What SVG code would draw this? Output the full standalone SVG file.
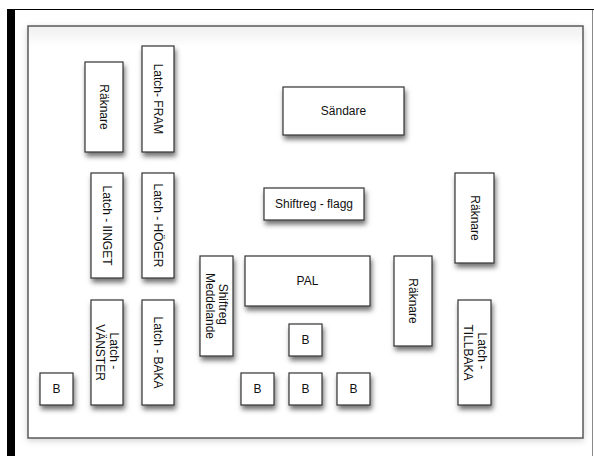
<svg xmlns="http://www.w3.org/2000/svg" width="594" height="456" viewBox="0 0 594 456">
  <defs>
    <filter id="shadow" x="-30%" y="-30%" width="160%" height="160%">
      <feDropShadow dx="1.5" dy="4" stdDeviation="2.5" flood-color="#000" flood-opacity="0.55"/>
    </filter>
    <filter id="frameShadow" x="-5%" y="-5%" width="110%" height="110%">
      <feDropShadow dx="0" dy="2" stdDeviation="3" flood-color="#000" flood-opacity="0.18"/>
    </filter>
    <linearGradient id="innerShade" x1="0" y1="0" x2="0" y2="1">
      <stop offset="0" stop-color="#efefef"/>
      <stop offset="0.05" stop-color="#ffffff"/>
      <stop offset="1" stop-color="#ffffff"/>
    </linearGradient>
  </defs>
  <style>
    .box { fill: #ffffff; stroke: #333333; stroke-width: 1.2; filter: url(#shadow); }
    .lbl { font-family: "Liberation Sans", Arial, Helvetica, sans-serif; font-size: 12px; fill: #111111; text-anchor: middle; dominant-baseline: central; }
  </style>

  <!-- page background and outer frame -->
  <rect x="0" y="0" width="594" height="456" fill="#ffffff"/>
  <rect x="7" y="9" width="8" height="447" fill="#000000"/>
  <line x1="15" y1="9.5" x2="594" y2="9.5" stroke="#000000" stroke-width="1"/>
  <line x1="592.5" y1="10" x2="592.5" y2="456" stroke="#8a8a8a" stroke-width="1"/>

  <!-- drawing area -->
  <rect x="28" y="26" width="555" height="412" fill="url(#innerShade)" stroke="#5a5a5a" stroke-width="1.5" filter="url(#frameShadow)"/>

  <g id="connectors"></g>

  <g id="raknare-1">
    <rect class="box" x="85" y="62" width="38" height="90"/>
    <text class="lbl" transform="translate(104,107) rotate(90)">Räknare</text>
  </g>
  <g id="latch-fram">
    <rect class="box" x="142" y="46" width="32" height="106"/>
    <text class="lbl" transform="translate(158,99) rotate(90)">Latch- FRAM</text>
  </g>
  <g id="sandare">
    <rect class="box" x="283" y="87" width="121" height="48"/>
    <text class="lbl" x="343.5" y="111">Sändare</text>
  </g>
  <g id="latch-inget">
    <rect class="box" x="91" y="173" width="32" height="105"/>
    <text class="lbl" transform="translate(107,225.5) rotate(90)">Latch - IINGET</text>
  </g>
  <g id="latch-hoger">
    <rect class="box" x="142" y="173" width="32" height="105"/>
    <text class="lbl" transform="translate(158,225.5) rotate(90)">Latch - HÖGER</text>
  </g>
  <g id="shiftreg-flagg">
    <rect class="box" x="264" y="188" width="100" height="32"/>
    <text class="lbl" x="314" y="204">Shiftreg - flagg</text>
  </g>
  <g id="raknare-2">
    <rect class="box" x="455" y="173" width="39" height="90"/>
    <text class="lbl" transform="translate(474.5,218) rotate(90)">Räknare</text>
  </g>
  <g id="shiftreg-meddelande">
    <rect class="box" x="200" y="256" width="33" height="100"/>
    <text class="lbl" transform="translate(216.5,306) rotate(90)">
      <tspan x="0" y="-6.5">Shiftreg</tspan>
      <tspan x="0" y="6.5">Meddelande</tspan>
    </text>
  </g>
  <g id="pal">
    <rect class="box" x="245" y="256" width="125" height="50"/>
    <text class="lbl" x="307.5" y="281">PAL</text>
  </g>
  <g id="raknare-3">
    <rect class="box" x="394" y="256" width="38" height="90"/>
    <text class="lbl" transform="translate(413,301) rotate(90)">Räknare</text>
  </g>
  <g id="latch-vanster">
    <rect class="box" x="91" y="300" width="32" height="105"/>
    <text class="lbl" transform="translate(107,352.5) rotate(90)">
      <tspan x="0" y="-7">Latch -</tspan>
      <tspan x="0" y="7">VÄNSTER</tspan>
    </text>
  </g>
  <g id="latch-baka">
    <rect class="box" x="142" y="300" width="32" height="105"/>
    <text class="lbl" transform="translate(158,352.5) rotate(90)">Latch - BAKA</text>
  </g>
  <g id="latch-tillbaka">
    <rect class="box" x="458" y="300" width="33" height="105"/>
    <text class="lbl" transform="translate(474.5,352.5) rotate(90)">
      <tspan x="0" y="-7">Latch -</tspan>
      <tspan x="0" y="7">TILLBAKA</tspan>
    </text>
  </g>
  <g id="b-upper">
    <rect class="box" x="289" y="324" width="33" height="32"/>
    <text class="lbl" x="305.5" y="340">B</text>
  </g>
  <g id="b-left">
    <rect class="box" x="40" y="373" width="33" height="32"/>
    <text class="lbl" x="56.5" y="389">B</text>
  </g>
  <g id="b-1">
    <rect class="box" x="241" y="373" width="33" height="32"/>
    <text class="lbl" x="257.5" y="389">B</text>
  </g>
  <g id="b-2">
    <rect class="box" x="289" y="373" width="33" height="32"/>
    <text class="lbl" x="305.5" y="389">B</text>
  </g>
  <g id="b-3">
    <rect class="box" x="337" y="373" width="33" height="32"/>
    <text class="lbl" x="353.5" y="389">B</text>
  </g>
</svg>
